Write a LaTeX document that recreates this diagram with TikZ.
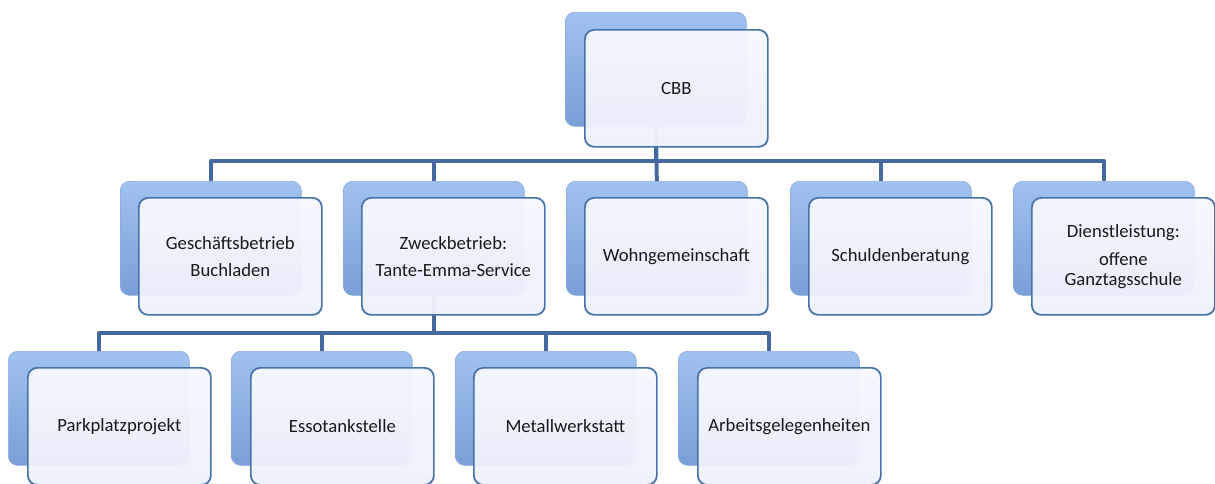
\documentclass[tikz,border=0pt]{standalone}
\usepackage{fontspec}
\setmainfont{Carlito}
\definecolor{backtop}{RGB}{160,194,240}
\definecolor{backbot}{RGB}{122,158,214}
\definecolor{backedge}{RGB}{140,170,220}
\definecolor{fronttop}{RGB}{246,248,254}
\definecolor{frontbot}{RGB}{236,241,252}
\definecolor{frontedge}{RGB}{72,114,170}
\definecolor{connc}{RGB}{68,106,160}
\definecolor{textc}{RGB}{25,25,25}
\begin{document}
\begin{tikzpicture}[x=0.75pt,y=-0.75pt,
  backbox/.style={rectangle, rounded corners=7pt, anchor=north west,
    minimum width=135.75pt, minimum height=85.5pt, inner sep=0pt,
    top color=backtop, bottom color=backbot, draw=backedge, line width=0.5pt},
  frontbox/.style={rectangle, rounded corners=7pt, anchor=north west,
    minimum width=137.25pt, minimum height=87.75pt, inner sep=2pt,
    draw=frontedge, line width=1.3pt, top color=fronttop, bottom color=frontbot,
    fill opacity=0.96, text opacity=1, text=textc, align=center,
    font=\fontsize{14}{14.5}\selectfont},
  conn/.style={draw=connc, line width=3pt, line join=round}]
\useasboundingbox (0,0) rectangle (1215,483);
\coordinate (bus1) at (0,161);
\coordinate (bus2) at (0,333);
% back boxes
\node[backbox] (cbbB) at (565,12) {};
\node[backbox] (gB) at (120,181) {};
\node[backbox] (zB) at (343,181) {};
\node[backbox] (wB) at (566,181) {};
\node[backbox] (sB) at (790,181) {};
\node[backbox] (dB) at (1013,181) {};
\node[backbox] (pB) at (8,351) {};
\node[backbox] (eB) at (231,351) {};
\node[backbox] (mB) at (455,351) {};
\node[backbox] (aB) at (678,351) {};
% connectors
\draw[conn] (cbbB.south) |- (gB.north |- bus1) -- (gB.north);
\draw[conn] (cbbB.south) |- (zB.north |- bus1) -- (zB.north);
\draw[conn] (cbbB.south) -- (wB.north);
\draw[conn] (cbbB.south) |- (sB.north |- bus1) -- (sB.north);
\draw[conn] (cbbB.south) |- (dB.north |- bus1) -- (dB.north);
\draw[conn] (zB.south) |- (pB.north |- bus2) -- (pB.north);
\draw[conn] (zB.south) |- (eB.north |- bus2) -- (eB.north);
\draw[conn] (zB.south) |- (mB.north |- bus2) -- (mB.north);
\draw[conn] (zB.south) |- (aB.north |- bus2) -- (aB.north);
% front boxes
\node[frontbox] (cbb) at (584,29) {CBB};
\node[frontbox] (g) at (138,197) {Geschäftsbetrieb\\[5.5pt]Buchladen};
\node[frontbox] (z) at (361,197) {Zweckbetrieb:\\[5.5pt]Tante-Emma-Service};
\node[frontbox] (w) at (584,197) {Wohngemeinschaft};
\node[frontbox] (s) at (808,197) {Schuldenberatung};
\node[frontbox] (d) at (1031,197) {Dienstleistung:\\[7pt]offene\\Ganztagsschule};
\node[frontbox] (p) at (27,367) {Parkplatzprojekt};
\node[frontbox] (e) at (250,367) {Essotankstelle};
\node[frontbox] (m) at (473,367) {Metallwerkstatt};
\node[frontbox] (a) at (697,367) {Arbeitsgelegenheiten};
\end{tikzpicture}
\end{document}
